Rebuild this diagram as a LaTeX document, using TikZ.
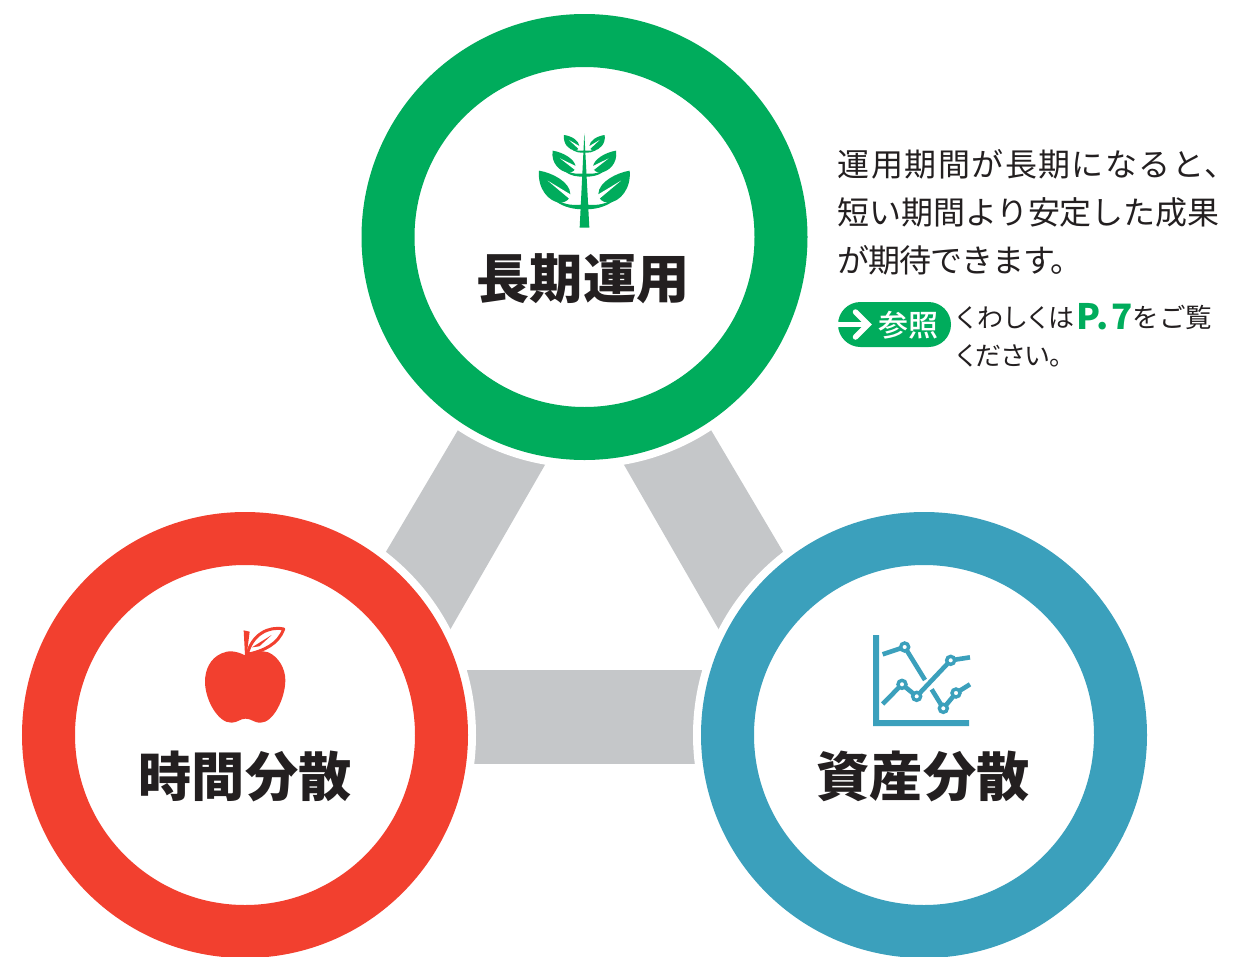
\documentclass[tikz,border=0pt]{standalone}
\usepackage{fontspec}
\setmainfont{Noto Sans CJK JP}
\newfontfamily\medfont{Noto Sans CJK JP Medium}
\definecolor{cgreen}{HTML}{00AC5C}
\definecolor{cred}{HTML}{F2402F}
\definecolor{cblue}{HTML}{3BA0BC}
\definecolor{cgray}{HTML}{C5C7C9}
\definecolor{ctext}{HTML}{231F20}
\tikzset{
 ring/.style={circle,draw=#1,line width=53pt,minimum size=393pt,inner sep=0pt,outer sep=0pt,fill=white},
 halo/.style={circle,fill=white,minimum size=462pt,inner sep=0pt,outer sep=0pt},
 bigtitle/.style={text=ctext,inner sep=0pt,font=\fontsize{53.2}{54}\selectfont\bfseries,anchor=center},
 body/.style={text=ctext,inner sep=0pt,anchor=base west,font=\fontsize{32}{32}\selectfont},
 small/.style={text=ctext,inner sep=0pt,anchor=base west,font=\fontsize{26}{26}\selectfont},
 bar/.style={fill=cgray,draw=none},
 chartline/.style={draw=cblue,line width=4.6pt},
 chartdot/.style={draw=cblue,line width=3.4pt,fill=white},
}
\newcommand{\planthalf}{%
 % large leaf
 \fill[cgreen] (57,152) .. controls (95,158) and (150,185) .. (151,222) .. controls (151,235) and (140,248) .. (120,248) .. controls (85,245) and (52,205) .. (57,152) -- cycle;
 \fill[white] (83,182) -- (156,226) -- (150,238) -- cycle;
 \fill[cgreen] (120,245) .. controls (150,258) and (165,254) .. (192,254) -- (192,268) .. controls (160,268) and (135,262) .. (110,246) -- cycle;
 % mid leaf
 \fill[cgreen] (98,92) .. controls (130,97) and (165,118) .. (167,140) .. controls (167,150) and (158,158) .. (145,158) .. controls (120,155) and (92,130) .. (98,92) -- cycle;
 \fill[white] (120,115) -- (171,140) -- (165,150) -- cycle;
 \fill[cgreen] (145,155) .. controls (160,162) and (170,161) .. (192,161) -- (192,170) .. controls (170,170) and (155,168) .. (138,157) -- cycle;
 % small leaf
 \fill[cgreen] (132,45) .. controls (155,48) and (177,62) .. (178,78) .. controls (178,86) and (172,92) .. (165,92) .. controls (148,90) and (128,72) .. (132,45) -- cycle;
 \fill[white] (147,60) -- (181,80) -- (176,87) -- cycle;
 \fill[cgreen] (165,90) .. controls (172,93) and (178,92) .. (192,92) -- (192,98) .. controls (178,98) and (168,97) .. (158,91) -- cycle;
}
\begin{document}
\begin{tikzpicture}[x=1pt,y=-1pt]
\useasboundingbox (0,0) rectangle (1234,956);
% connecting bars
\fill[bar] (493.5,370) -- (351.5,610) -- (427.5,669) -- (568.5,424) -- cycle;
\fill[bar] (675.5,370) -- (817.5,610) -- (741.5,669) -- (600.5,424) -- cycle;
\fill[bar] (300,670) rectangle (870,764);
\node[halo] at (584.5,237) {};
\node[halo] at (245,735) {};
\node[halo] at (924,735) {};
% rings
\node[ring=cgreen] (ringA) at (584.5,237) {};
\node[ring=cred] (ringB) at (245,735) {};
\node[ring=cblue] (ringC) at (924,735) {};
% titles
\node[bigtitle] (titleA) at (583,279) {長期運用};
\node[bigtitle] (titleB) at (245,776) {時間分散};
\node[bigtitle] (titleC) at (923,776) {資産分散};
% plant icon
\begin{scope}[shift={(520,120)},x=0.33333pt,y=-0.33333pt]
 \planthalf
\end{scope}
\begin{scope}[shift={(648.67,120)},x=-0.33333pt,y=-0.33333pt]
 \planthalf
\end{scope}
\begin{scope}[shift={(520,120)},x=0.33333pt,y=-0.33333pt]
 \fill[cgreen] (193,40) -- (208,323) -- (179,323) -- cycle;
\end{scope}
% apple icon
\begin{scope}[shift={(190,615)},x=0.33333pt,y=-0.33333pt]
 \fill[cred] (165,121) .. controls (140,108) and (115,105) .. (95,115) .. controls (60,130) and (45,165) .. (45,200)
   .. controls (45,255) and (85,325) .. (125,323) .. controls (145,322) and (150,311) .. (167,311)
   .. controls (185,311) and (190,323) .. (212,323) .. controls (250,323) and (286,250) .. (286,195)
   .. controls (286,160) and (265,125) .. (235,112) .. controls (215,105) and (190,110) .. (165,121) -- cycle;
 \fill[cred] (161,46) -- (179,50) -- (170,120) -- (165,120) -- cycle;
 \draw[cred,line width=3pt,line join=round] (172,118) .. controls (185,60) and (235,32) .. (281,42) .. controls (265,88) and (220,108) .. (172,118) -- cycle;
 \fill[cred] (186,97) -- (245,60) -- (208,94) -- cycle;
\end{scope}
% chart icon
\begin{scope}[shift={(860,625)},x=0.33333pt,y=-0.33333pt]
 \fill[cblue] (39,30) -- (57,30) -- (57,285) -- (327,285) -- (327,303) -- (39,303) -- cycle;
 \draw[chartline] (68,88) -- (134,66) -- (195,165);
 \draw[chartline] (68,237) -- (126,178) -- (170,214) -- (272,106) -- (330,97);
 \draw[chartline] (215,193) -- (250,250) -- (288,204) -- (330,178);
 \foreach \p in {(134,66),(126,178),(170,214),(272,106),(250,250),(288,204)}
  \draw[chartdot] \p circle (12);
\end{scope}
% description
\node[body] (l1) at (837.5,176) {\addfontfeature{LetterSpace=4.6}運用期間が長期になると\makebox[14pt][l]{、}};
\node[body] (l2) at (837.5,224) {\addfontfeature{LetterSpace=-0.5}短い期間より安定した成果};
\node[body] (l3) at (837.5,272) {\addfontfeature{LetterSpace=-3.5}が期待できます。};
% reference pill
\node[fill=cgreen,rounded corners=22.5pt,minimum width=113pt,minimum height=45pt,inner sep=0pt,outer sep=0pt] (pill) at (894.5,324.5) {};
\draw[white,line width=5.5pt] (pill.west) -- (868,324.5);
\draw[white,line width=5.5pt,line cap=round,line join=miter] (855.5,312) -- (868,324.5) -- (855.5,337);
\node[text=white,inner sep=0pt,font=\fontsize{30}{30}\medfont] (pilltext) at (908.5,325) {参照};
\node[small] (m1) at (957,327) {\addfontfeature{RawFeature=+palt,LetterSpace=7}くわしくは};
\node[small,text=cgreen,font=\fontsize{35}{35}\selectfont\bfseries] (m2) at (1076,329) {\addfontfeature{LetterSpace=6}P.7};
\node[small,font=\fontsize{26.5}{26.5}\selectfont] (m3) at (1132.5,327) {をご覧};
\node[small] (m4) at (957,365) {\addfontfeature{RawFeature=+palt}ください。};
\end{tikzpicture}
\end{document}
